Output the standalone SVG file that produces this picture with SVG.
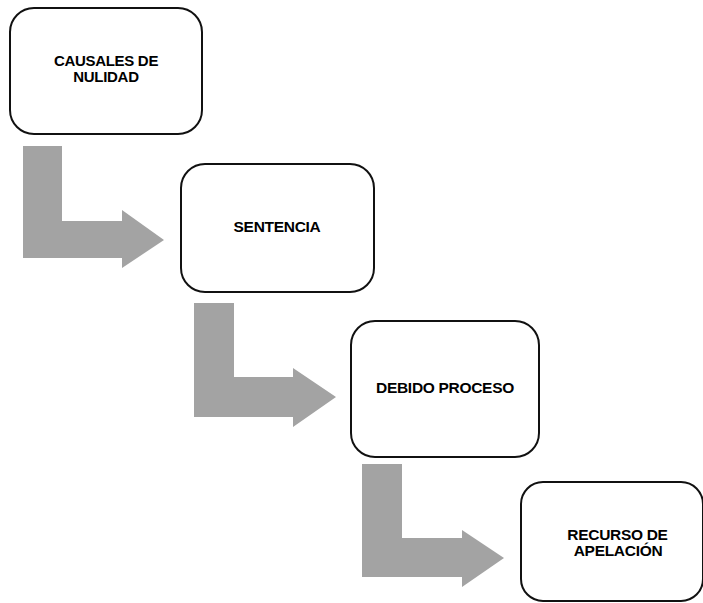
<svg xmlns="http://www.w3.org/2000/svg" width="703" height="603" viewBox="0 0 703 603">
<style>
.box{fill:#fff;stroke:#111;stroke-width:2}
.lbl{font-family:"Liberation Sans",Arial,sans-serif;font-weight:bold;font-size:15.5px;fill:#000;text-anchor:middle;letter-spacing:-0.3px}
.arr{fill:#a3a3a3}
</style>
<rect width="703" height="603" fill="#fff"/>
<g id="connectors">
<polygon class="arr" points="23,146 62,146 62,221 122,221 122,210 164,240 122,268 122,258 23,258"/>
<polygon class="arr" points="194,303 234,303 234,377 293,377 293,368 336,397 293,427 293,417 194,417"/>
<polygon class="arr" points="362,464 402,464 402,538 462,538 462,530 504,558 462,587 462,577 362,577"/>
</g>
<g id="n1">
<rect class="box" x="10" y="8" width="192" height="126" rx="24"/>
<text class="lbl" x="106" y="66" style="font-size:15px">CAUSALES DE</text>
<text class="lbl" x="106" y="82" style="font-size:15px">NULIDAD</text>
</g>
<g id="n2">
<rect class="box" x="181" y="164" width="193" height="128" rx="24"/>
<text class="lbl" x="277" y="232">SENTENCIA</text>
</g>
<g id="n3">
<rect class="box" x="351" y="321" width="188" height="136" rx="24"/>
<text class="lbl" x="445" y="393">DEBIDO PROCESO</text>
</g>
<g id="n4">
<rect class="box" x="521" y="482" width="182" height="119" rx="22"/>
<text class="lbl" x="617.5" y="540">RECURSO DE</text>
<text class="lbl" x="618" y="556">APELACIÓN</text>
</g>
</svg>
